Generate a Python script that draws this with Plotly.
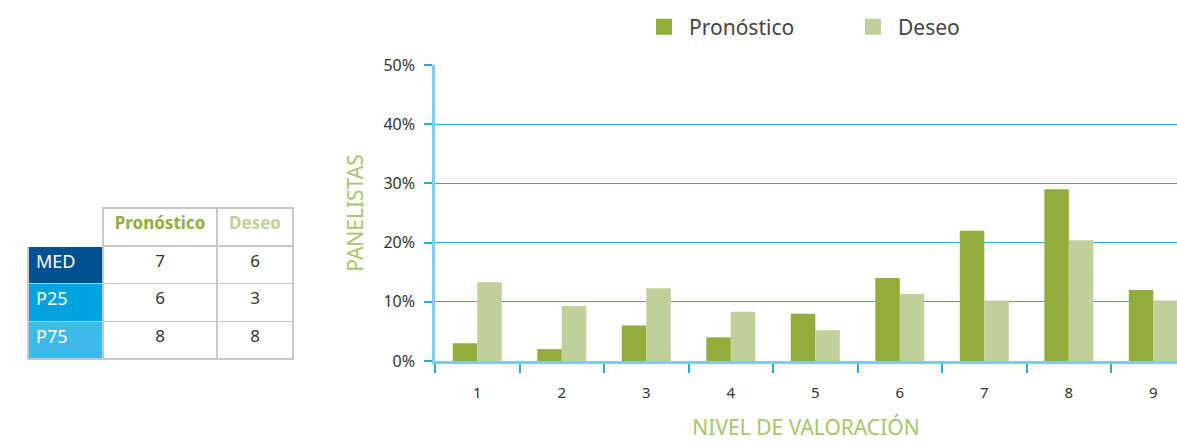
import plotly.graph_objects as go

categories = ["1", "2", "3", "4", "5", "6", "7", "8", "9"]
pronostico = [3, 2, 6, 4, 8, 14, 22, 29, 12]
deseo = [13.3, 9.3, 12.3, 8.3, 5.2, 11.3, 10.2, 20.4, 10.2]
y_ticks = [0, 10, 20, 30, 40, 50]
y_tick_labels = ["0%", "10%", "20%", "30%", "40%", "50%"]

table_rows = ["MED", "P25", "P75"]
table_pron = ["7", "6", "8"]
table_deseo = ["6", "3", "8"]
table_headers = ["", "Pronóstico", "Deseo"]

C_PRON = "#93AC3A"
C_DES = "#C1D09A"
C_GRID = "#29ABE2"
C_TITLE = "#A9C46C"
FONT = "Noto Sans"
W, H = 1177, 441

fig = go.Figure()
fig.add_trace(go.Bar(name="Pronóstico", x=categories, y=pronostico, marker_color=C_PRON,
                     marker_line_width=0, showlegend=False))
fig.add_trace(go.Bar(name="Deseo", x=categories, y=deseo, marker_color=C_DES,
                     marker_line_width=0, showlegend=False))
# legend entries with larger square swatches
fig.add_trace(go.Scatter(name="Pronóstico", x=[None], y=[None], mode="markers",
                         marker=dict(symbol="square", size=22, color=C_PRON)))
fig.add_trace(go.Scatter(name="Deseo", x=[None], y=[None], mode="markers",
                         marker=dict(symbol="square", size=22, color=C_DES)))

fig.add_trace(go.Table(
    domain=dict(x=[28 / W, 293 / W], y=[0.0, (361 - 208) / 296]),
    columnwidth=[75, 114, 76],
    header=dict(values=table_headers,
                fill_color="white",
                line=dict(color=["white", "#C8C8C8", "#C8C8C8"], width=1.5),
                font=dict(family=FONT, size=17, color=["white", C_PRON, C_DES], weight=700),
                align="center", height=38),
    cells=dict(values=[table_rows, table_pron, table_deseo],
               fill_color=[["#005192", "#00A3E0", "#41B8EA"], "white", "white"],
               line=dict(color="#C8C8C8", width=1.5),
               font=dict(family=FONT, size=[18, 17, 17], color=["white", "#333333", "#333333"]),
               align=["left", "center", "center"], height=37.7),
))

fig.update_layout(
    width=W, height=H,
    margin=dict(l=0, r=0, t=65, b=80, autoexpand=False),
    paper_bgcolor="white", plot_bgcolor="white",
    barmode="group", bargap=0.42, bargroupgap=0,
    font=dict(family=FONT, color="#333333"),
    showlegend=True,
    legend=dict(orientation="h", x=639 / W, xanchor="left",
                y=1 - 27 / H, yanchor="middle", yref="container",
                font=dict(size=21, color="#444444"), itemsizing="trace",
                itemwidth=40, entrywidth=154),
    xaxis=dict(type="category", domain=[435 / W, 1], range=[-0.5, 8.28],
               showline=True, linecolor="#7FCCEE",
               linewidth=2.5, ticks="outside", tickson="boundaries", ticklen=9,
               tickcolor=C_GRID, tickwidth=1.5, showgrid=False,
               tickfont=dict(size=15, color="#333333"), ticklabelstandoff=16,
               automargin=False,
               title=dict(text="NIVEL DE VALORACIÓN", font=dict(size=21, color=C_TITLE),
                          standoff=32)),
    yaxis=dict(range=[0, 50], tickvals=y_ticks, ticktext=y_tick_labels,
               showline=True, linecolor="#7FCCEE", linewidth=2.5,
               ticks="outside", ticklen=8, tickcolor=C_GRID, tickwidth=1.5,
               showgrid=True, gridcolor=C_GRID, gridwidth=1.2, zeroline=False,
               tickfont=dict(size=16, color="#333333"), ticklabelstandoff=6,
               automargin=False,
               title=dict(text="PANELISTAS", font=dict(size=21, color=C_TITLE),
                          standoff=15)),
)

fig.write_html("out.html", config={"displayModeBar": False},
               post_script="document.body.style.margin='0';")
